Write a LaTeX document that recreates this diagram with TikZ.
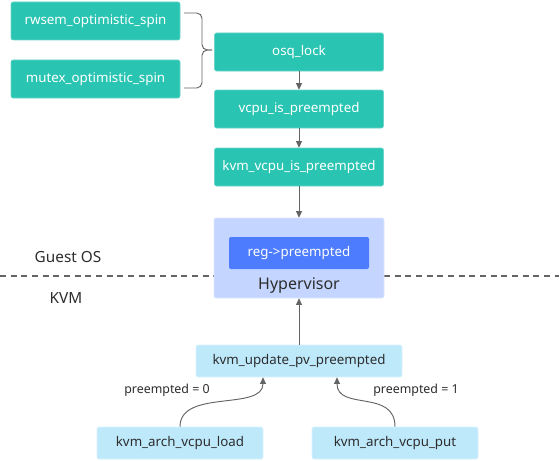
\documentclass[tikz,border=0pt]{standalone}
\usepackage{fontspec}
\setmainfont{Noto Sans}
\usepackage{tikz}
\usetikzlibrary{arrows.meta, positioning, calc}
\definecolor{tealfill}{RGB}{41, 196, 178}
\definecolor{skyfill}{RGB}{190, 233, 251}
\definecolor{hyperfill}{RGB}{196, 214, 255}
\definecolor{regfill}{RGB}{78, 124, 254}
\definecolor{linegray}{RGB}{100, 100, 100}
\definecolor{textdark}{RGB}{45, 45, 45}

\begin{document}
\begin{tikzpicture}[x=0.75pt, y=-0.75pt,
    tealbox/.style={fill=tealfill, draw=tealfill!70!white, rounded corners=1.5pt, text=white,
        minimum width=126.75pt, minimum height=28.5pt, inner sep=0pt, font=\fontsize{10}{12}\selectfont},
    skybox/.style={fill=skyfill, draw=skyfill!60!white, rounded corners=1.5pt, text=textdark,
        minimum height=24pt, inner sep=0pt, font=\fontsize{10}{12}\selectfont},
    flow/.style={linegray, line width=0.7pt, -{Triangle[length=5pt, width=4.5pt]}},
    lbl/.style={text=textdark, font=\fontsize{9.3}{11}\selectfont}]
    \useasboundingbox (0,0) rectangle (559,460);

    % Guest OS / KVM split
    \draw[linegray, line width=0.8pt, dash pattern=on 4.5pt off 3.5pt] (0,276) -- (559,276);
    \node[text=textdark, font=\fontsize{11.5}{13}\selectfont] (guest) at (68,257) {Guest OS};
    \node[text=textdark, font=\fontsize{11.5}{13}\selectfont] (kvm) at (66,298) {KVM};

    % Spin callers
    \node[tealbox] (rwsem) at (95.5,21) {rwsem\_optimistic\_spin};
    \node[tealbox] (mutex) at (95.5,79) {mutex\_optimistic\_spin};

    % Brace
    \draw[linegray, line width=0.7pt, rounded corners=4pt] (184,13) -- (202,13) -- (202,50) -- (212,50);
    \draw[linegray, line width=0.7pt, rounded corners=4pt] (184,88) -- (202,88) -- (202,50) -- (212,50);

    % Guest chain
    \node[tealbox] (osq) at (299,52) {osq\_lock};
    \node[tealbox] (vcpu) at (299,109) {vcpu\_is\_preempted};
    \node[tealbox] (kvmvcpu) at (299,167) {kvm\_vcpu\_is\_preempted};

    % Hypervisor
    \node[fill=hyperfill, draw=hyperfill!60!white, rounded corners=1.5pt, minimum width=127.5pt,
        minimum height=60pt, inner sep=0pt] (hyper) at (299,258) {};
    \node[fill=regfill, rounded corners=1.5pt, text=white, minimum width=105pt, minimum height=24pt,
        inner sep=0pt, font=\fontsize{10}{12}\selectfont] (reg) at (299,253) {reg->preempted};
    \node[text=textdark, font=\fontsize{12}{14}\selectfont] (hypertext) at (299,286) {Hypervisor};

    % KVM side
    \node[skybox, minimum width=154.5pt] (update) at (299,361) {kvm\_update\_pv\_preempted};
    \node[skybox, minimum width=124.5pt] (load) at (180,443) {kvm\_arch\_vcpu\_load};
    \node[skybox, minimum width=124.5pt] (put) at (395,443) {kvm\_arch\_vcpu\_put};

    % Arrows
    \draw[flow] (osq) -- (vcpu);
    \draw[flow] (vcpu) -- (kvmvcpu);
    \draw[flow] (kvmvcpu) -- (hyper);
    \draw[flow] (update) -- (hyper);
    \draw[flow] (load.north) .. controls +(0,-38) and +(0,34) .. ($(update.south)+(-36,0)$);
    \draw[flow] (put.north) .. controls +(0,-38) and +(0,34) .. ($(update.south)+(38,0)$);
    \node[lbl] (zero) at (167,390) {preempted = 0};
    \node[lbl] (one) at (416,390) {preempted = 1};
\end{tikzpicture}
\end{document}
